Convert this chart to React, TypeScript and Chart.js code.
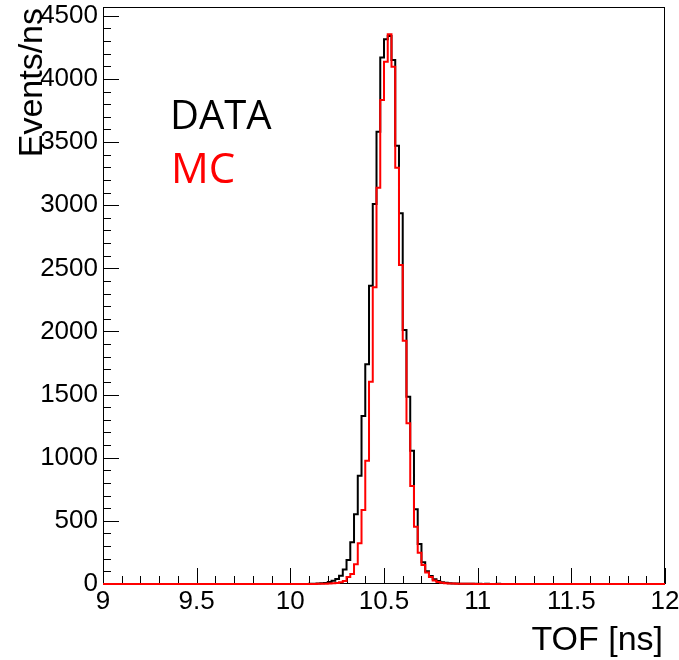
import React, { useEffect, useRef } from "react";
import { Chart, registerables } from "chart.js";

Chart.register(...registerables);

// Histogram binning (TOF in ns)
const X_MIN = 9;
const X_MAX = 12;
const BIN_WIDTH = 0.02;
const Y_MAX = 4570;

const X_TICKS = [9, 9.5, 10, 10.5, 11, 11.5, 12];
const Y_TICKS = [0, 500, 1000, 1500, 2000, 2500, 3000, 3500, 4000, 4500];
const X_MINOR_STEP = 0.1;
const Y_MINOR_STEP = 100;

const X_TITLE = "TOF [ns]";
const Y_TITLE = "Events/ns";
const LEGEND_LABELS = ["DATA", "MC"];

// Events/ns per 0.02 ns bin, bins starting at 9.00, 9.02, ... 11.98
const DATA_VALUES = [
  0, 0, 0, 0, 0, 0, 0, 0, 0, 0,
  0, 0, 0, 0, 0, 0, 0, 0, 0, 0,
  0, 0, 0, 0, 0, 0, 0, 0, 0, 0,
  0, 0, 0, 0, 0, 0, 0, 0, 0, 0,
  0, 0, 0, 0, 0, 0, 0, 0, 0, 0,
  0, 0, 0, 0, 0, 1, 2, 3, 5, 8,
  15, 25, 40, 65, 115, 190, 330, 552, 858, 1331,
  1740, 2363, 3010, 3582, 4171, 4314, 4340, 4150, 3471, 2936,
  2012, 1483, 1056, 592, 317, 172, 100, 63, 37, 24,
  14, 9, 6, 4, 3, 2, 2, 1, 1, 1,
  1, 0, 1, 0, 0, 1, 0, 0, 0, 0,
  0, 0, 0, 0, 0, 0, 0, 0, 0, 0,
  0, 0, 0, 0, 0, 0, 0, 0, 0, 0,
  0, 0, 0, 0, 0, 0, 0, 0, 0, 0,
  0, 0, 0, 0, 0, 0, 0, 0, 0, 0,
];

const MC_VALUES = [
  0, 0, 0, 0, 0, 0, 0, 0, 0, 0,
  0, 0, 0, 0, 0, 0, 0, 0, 0, 0,
  0, 0, 0, 0, 0, 0, 0, 0, 0, 0,
  0, 0, 0, 0, 0, 0, 0, 0, 0, 0,
  0, 0, 0, 0, 0, 0, 0, 0, 0, 0,
  0, 0, 0, 0, 0, 0, 0, 1, 1, 2,
  3, 5, 8, 14, 24, 55, 80, 156, 322, 586,
  977, 1602, 2350, 3139, 3833, 4137, 4354, 4097, 3297, 2526,
  1927, 1273, 776, 454, 248, 150, 92, 55, 28, 16,
  9, 6, 4, 3, 2, 2, 1, 1, 1, 0,
  0, 0, 0, 0, 0, 0, 0, 0, 0, 0,
  0, 0, 0, 0, 0, 0, 0, 0, 0, 0,
  0, 0, 0, 0, 0, 0, 0, 0, 0, 0,
  0, 0, 0, 0, 0, 0, 0, 0, 0, 0,
  0, 0, 0, 0, 0, 0, 0, 0, 0, 0,
];

function toSteps(values: number[]) {
  const pts = values.map((v, i) => ({ x: X_MIN + i * BIN_WIDTH, y: v }));
  pts.push({ x: X_MAX, y: values[values.length - 1] });
  return pts;
}

const AXIS_FONT = "'Liberation Sans', Arial, sans-serif";

const framePlugin = {
  id: "rootFrame",
  beforeDatasetsDraw(chart: any) {
    const { ctx, chartArea, scales } = chart;
    const { left, right, top, bottom } = chartArea;
    const xs = scales.x;
    const ys = scales.y;
    ctx.save();
    ctx.strokeStyle = "#000";
    ctx.lineWidth = 1;
    ctx.strokeRect(Math.round(left) + 0.5, Math.round(top) + 0.5, Math.round(right - left) - 1, Math.round(bottom - top) - 1);
    ctx.beginPath();
    const nx = Math.round((X_MAX - X_MIN) / X_MINOR_STEP);
    for (let i = 0; i <= nx; i++) {
      const v = X_MIN + i * X_MINOR_STEP;
      const px = Math.round(xs.getPixelForValue(v)) + 0.5;
      const major = X_TICKS.some((t) => Math.abs(t - v) < 1e-6);
      const len = major ? 16 : 8;
      ctx.moveTo(px, bottom);
      ctx.lineTo(px, bottom - len);
    }
    const topTick = Y_TICKS[Y_TICKS.length - 1];
    const ny = Math.round(topTick / Y_MINOR_STEP);
    for (let i = 0; i <= ny; i++) {
      const v = i * Y_MINOR_STEP;
      const py = Math.round(ys.getPixelForValue(v)) + 0.5;
      const major = Y_TICKS.some((t) => Math.abs(t - v) < 1e-6);
      const len = major ? 16 : 8;
      ctx.moveTo(left, py);
      ctx.lineTo(left + len, py);
    }
    ctx.stroke();
    ctx.restore();
  },
  afterDraw(chart: any) {
    const { ctx } = chart;
    ctx.save();
    ctx.fillStyle = "#000";
    ctx.font = `34px ${AXIS_FONT}`;
    ctx.textAlign = "right";
    ctx.textBaseline = "alphabetic";
    ctx.fillText(X_TITLE, 663, 650);
    ctx.save();
    ctx.translate(42, 8);
    ctx.rotate(-Math.PI / 2);
    ctx.fillText(Y_TITLE, 0, 0);
    ctx.restore();
    ctx.textAlign = "left";
    ctx.font = "40px 'Open Sans', sans-serif";
    ctx.fillStyle = "#000";
    ctx.fillText(LEGEND_LABELS[0], 170, 129);
    ctx.fillStyle = "#ff0000";
    ctx.font = "42px 'Open Sans', sans-serif";
    ctx.fillText(LEGEND_LABELS[1], 171, 183);
    ctx.restore();
  },
};

function zeroPadding(s: any) {
  s.paddingTop = 0;
  s.paddingBottom = 0;
  s.paddingLeft = 0;
  s.paddingRight = 0;
}

export default function App() {
  const ref = useRef<HTMLCanvasElement>(null);
  useEffect(() => {
    const chart = new Chart(ref.current!, {
      type: "line",
      data: {
        datasets: [
          {
            label: LEGEND_LABELS[1],
            data: toSteps(MC_VALUES),
            borderColor: "#ff0000",
            borderWidth: 2,
            pointRadius: 0,
            stepped: "before",
            fill: false,
            order: 0,
            clip: 4,
          },
          {
            label: LEGEND_LABELS[0],
            data: toSteps(DATA_VALUES),
            borderColor: "#000000",
            borderWidth: 2,
            pointRadius: 0,
            stepped: "before",
            fill: false,
            order: 1,
            clip: 4,
          },
        ],
      },
      options: {
        animation: false,
        responsive: false,
        devicePixelRatio: 1,
        layout: { padding: { top: 7, right: 14, left: 0, bottom: 0 } },
        plugins: { legend: { display: false }, tooltip: { enabled: false } },
        scales: {
          x: {
            type: "linear",
            min: X_MIN,
            max: X_MAX,
            grid: { display: false, drawTicks: false },
            border: { display: false },
            afterBuildTicks: (s: any) => {
              s.ticks = X_TICKS.map((v) => ({ value: v }));
            },
            ticks: {
              autoSkip: false,
              maxRotation: 0,
              padding: 2,
              color: "#000",
              font: { family: AXIS_FONT, size: 26 },
              callback: (v: any) => String(Math.round(Number(v) * 10) / 10),
            },
            afterFit: (s: any) => {
              s.height = 76;
              zeroPadding(s);
            },
          },
          y: {
            type: "linear",
            min: 0,
            max: Y_MAX,
            grid: { display: false, drawTicks: false },
            border: { display: false },
            afterBuildTicks: (s: any) => {
              s.ticks = Y_TICKS.map((v) => ({ value: v }));
            },
            ticks: {
              autoSkip: false,
              padding: 5,
              color: "#000",
              font: { family: AXIS_FONT, size: 26 },
              callback: (v: any) => String(Math.round(Number(v))),
            },
            afterFit: (s: any) => {
              s.width = 103;
              zeroPadding(s);
            },
          },
        },
      },
      plugins: [framePlugin],
    } as any);
    return () => chart.destroy();
  }, []);
  return (
    <div style={{ position: "fixed", left: 0, top: 0, width: 679, height: 660, background: "#fff" }}>
      <canvas ref={ref} width={679} height={660} style={{ width: 679, height: 660, display: "block" }} />
    </div>
  );
}
